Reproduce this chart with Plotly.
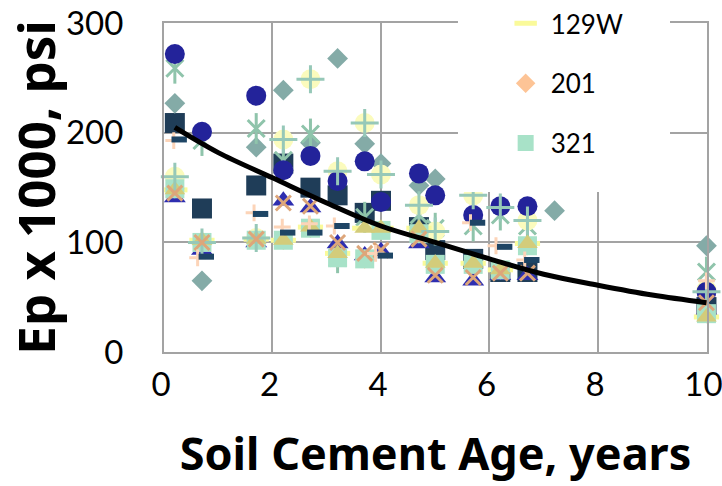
import plotly.graph_objects as go

# ---------------- data ----------------
circ_x = [0.2, 0.7, 1.7, 2.2, 2.7, 3.2, 3.7, 4.0, 4.7, 5.0, 5.7, 6.2, 6.7, 10]
circ_y = [272, 201, 234, 166, 179, 156, 174, 137, 163, 143, 125, 133, 133, 55]

ycirc_x = [0.2, 0.7, 1.7, 2.2, 2.7, 3.2, 3.7, 4.0, 4.7, 5.0, 5.7, 6.7, 10]
ycirc_y = [160, 100, 104, 194, 249, 165, 209, 162, 134, 110, 143, 120, 57]

plus_x = [0.2, 0.7, 1.7, 2.2, 2.7, 3.2, 3.7, 4.0, 4.7, 5.0, 5.7, 6.2, 6.7, 10]
plus_y = [160, 100, 104, 194, 249, 165, 209, 162, 134, 110, 143, 132, 120, 55]

ast_x = [0.2, 0.7, 1.7, 2.2, 2.7, 3.2, 3.7, 4.7, 5.0, 5.7, 6.2, 6.7, 10]
ast_y = [259, 193, 204, 175, 199, 86, 123, 125, 113, 115, 125, 115, 73]

dia_x = [0.2, 0.7, 1.7, 2.2, 2.7, 3.2, 3.7, 4.0, 4.7, 5.0, 7.2, 10]
dia_y = [227, 65, 187, 239, 191, 268, 190, 172, 152, 158, 129, 97]

sq_x = [0.2, 0.7, 1.7, 2.2, 2.7, 3.2, 3.7, 4.0, 4.7, 5.0, 5.7, 6.2, 6.7, 10]
sq_y = [209, 131, 152, 172, 150, 143, 127, 138, 114, 93, 85, 73, 73, 41]

tri_x = [0.2, 0.7, 1.7, 2.2, 2.7, 3.2, 3.7, 4.0, 4.7, 5.0, 5.7, 6.2, 6.7, 10]
tri_y = [141, 93, 100, 138, 132, 99, 88, 92, 99, 68, 65, 70, 70, 38]

xm_x = [0.2, 0.7, 1.7, 2.2, 2.7, 3.2, 3.7, 4.0, 4.7, 5.0, 5.7, 6.2, 6.7, 10]
xm_y = [145, 100, 103, 136, 133, 100, 90, 93, 103, 70, 68, 72, 72, 45]

ktri_x = [0.2, 0.7, 1.7, 2.2, 2.7, 3.2, 3.7, 4.0, 4.7, 5.0, 5.7, 6.2, 6.7, 10]
ktri_y = [148, 102, 103, 102, 114, 90, 113, 113, 113, 81, 81, 75, 99, 32]

s321_x = [0.2, 0.7, 1.7, 2.2, 2.7, 3.2, 3.7, 4.0, 4.7, 5.0, 5.7, 6.2, 6.7, 10]
s321_y = [149, 100, 102, 102, 113, 86, 85, 111, 108, 80, 80, 75, 97, 35]

s201_x = [0.2, 0.7, 1.7, 2.2, 2.7, 3.2, 3.7, 4.0, 4.7, 5.0, 5.7, 6.2, 6.7, 10]
s201_y = [149, 100, 102, 102, 113, 86, 85, 111, 108, 80, 80, 75, 97, 35]

s129w_x = [0.2, 0.7, 1.7, 2.2, 2.7, 3.2, 3.7, 4.0, 4.7, 5.0, 5.7, 6.2, 6.7, 10]
s129w_y = [148, 102, 103, 102, 114, 90, 113, 113, 113, 81, 81, 75, 99, 32]

dash_x = [0.28, 0.78, 1.78, 2.28, 2.78, 3.28, 4.08, 5.78, 6.28, 6.78, 10.05]
dash_y = [194, 87, 126, 109, 109, 115, 88, 118, 96, 84, 65]

pplus_x = [0.18, 0.62, 1.66, 2.18, 2.68, 3.14, 3.9, 5.65, 6.12, 6.65, 10]
pplus_y = [193, 86, 127, 114, 117, 115, 90, 118, 97, 84, 65]

trend_x = [0.2, 1, 2, 3, 4, 5, 6, 7, 8, 9, 10]
trend_y = [205, 182, 159, 136, 115, 100, 85, 71, 61, 52, 45]

x_ticks = [0, 2, 4, 6, 8, 10]
y_ticks = [0, 100, 200, 300]

# ---------------- figure ----------------
fig = go.Figure()


def add(x, y, name, symbol, size, color, line_color=None, line_width=0, legend=False):
    fig.add_trace(go.Scatter(
        x=x, y=y, mode="markers", name=name, showlegend=legend,
        legendgroup=name, cliponaxis=False,
        marker=dict(symbol=symbol, size=size, color=color,
                    line=dict(color=line_color or color, width=line_width)),
    ))


add(sq_x, sq_y, "sq", "square", 20, "#1f3d58")
add(dia_x, dia_y, "dia", "diamond", 16, "#84aba7")
add(ast_x, ast_y, "ast", "x-thin", 17, "#8fc4ab", "#8fc4ab", 3)
add(ast_x, ast_y, "ast2", "line-ns", 22, "#8fc4ab", "#8fc4ab", 3)
add(ycirc_x, ycirc_y, "ycirc", "circle", 20, "#fbfbbd")
add(circ_x, circ_y, "circ", "circle", 20, "#23239a")
add(tri_x, tri_y, "tri", "triangle-up", 19, "#2e2eb0")
add(s129w_x, s129w_y, "129W", "line-ew", 18, "#fafa9a", "#fafa9a", 5, legend=True)
add(s201_x, s201_y, "201", "diamond", 15, "#fdc496", legend=True)
add(s321_x, s321_y, "321", "square", 19, "#a8e2c8", legend=True)
add(ktri_x, ktri_y, "ktri", "triangle-up", 18, "#d3cc7a")
add(plus_x, plus_y, "plus", "cross-thin", 20, "#96c8b8", "#96c8b8", 3)
add(xm_x, xm_y, "xm", "x-thin", 15, "#dda67a", "#dda67a", 3)
add(pplus_x, pplus_y, "pplus", "cross-thin", 12, "#fcd4b8", "#fcd4b8", 3)
add(dash_x, dash_y, "dash", "line-ew", 11, "#1e4565", "#1e4565", 6)

fig.add_trace(go.Scatter(
    x=trend_x, y=trend_y, mode="lines", name="trend", showlegend=False,
    line=dict(color="black", width=5, shape="spline"),
))

grid = "#a3a3a3"
tick_font = dict(family="Lato", size=33, color="black")
fig.update_layout(
    width=722, height=486,
    margin=dict(l=164, r=15, t=23, b=134, autoexpand=False),
    paper_bgcolor="white", plot_bgcolor="white",
    font=dict(family="Noto Sans", color="black"),
    legend=dict(
        x=0.62, y=1.07, xanchor="left", yanchor="top",
        bgcolor="rgba(0,0,0,0)", traceorder="grouped",
        tracegroupgap=23, itemsizing="trace", itemwidth=40,
        font=dict(family="Lato", size=26, color="black"),
    ),
    shapes=[dict(type="rect", xref="paper", yref="paper",
                 x0=0.5414, x1=0.9319, y0=0.486, y1=1.1,
                 fillcolor="white", line=dict(width=0), layer="above")],
    xaxis=dict(
        range=[0, 10.01], tickvals=x_ticks, ticktext=[str(v) for v in x_ticks],
        showgrid=True, gridcolor=grid, gridwidth=2, zeroline=False,
        showline=True, mirror=True, linecolor=grid, linewidth=2,
        ticks="outside", ticklen=2, tickcolor="rgba(0,0,0,0)",
        automargin=False, ticklabeloverflow="allow", ticklabelshift=-3,
        tickfont=tick_font,
        title=dict(text="<b>Soil Cement Age, years</b>", standoff=37,
                   font=dict(family="Noto Sans", size=45)),
    ),
    yaxis=dict(
        range=[0, 300.3], tickvals=y_ticks, ticktext=[str(v) for v in y_ticks],
        showgrid=True, gridcolor=grid, gridwidth=2, zeroline=False,
        showline=True, mirror=True, linecolor=grid, linewidth=2,
        ticks="outside", ticklen=32, tickcolor="rgba(0,0,0,0)", automargin=False,
        ticklabeloverflow="allow",
        tickfont=tick_font,
        title=dict(text="<b>Ep x 1000, psi</b>", standoff=8,
                   font=dict(family="Noto Sans", size=51)),
    ),
)

fig.write_html(
    "out.html",
    config={"displayModeBar": False},
    post_script="document.body.style.margin='0';document.body.style.padding='0';",
)
